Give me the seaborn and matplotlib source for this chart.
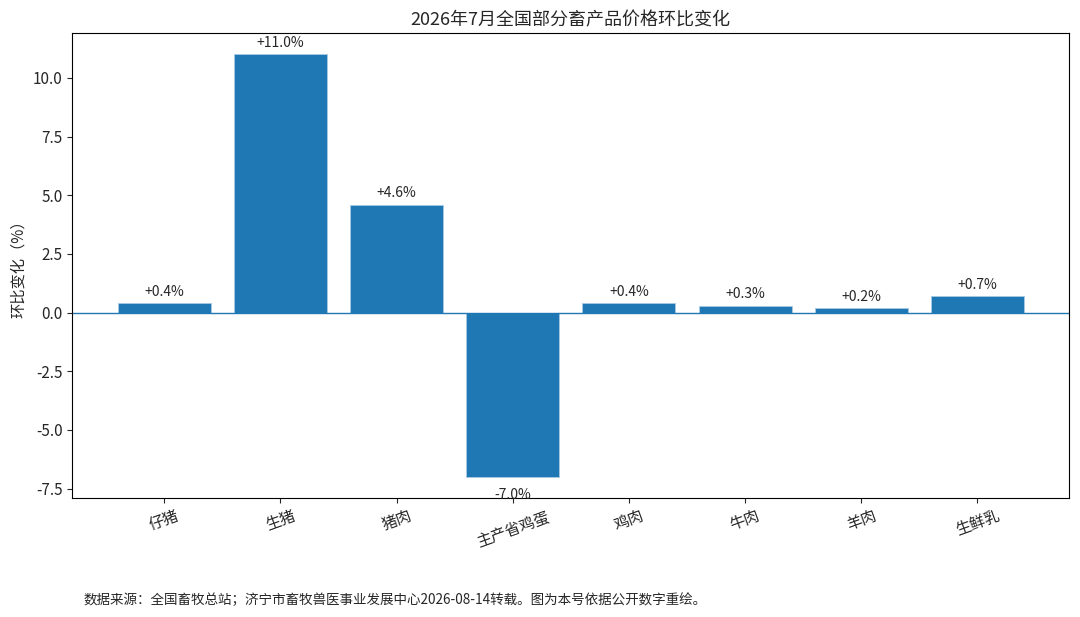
import pandas as pd
import seaborn as sns
import matplotlib.pyplot as plt

# 数据
categories = ['仔猪', '生猪', '猪肉', '主产省鸡蛋', '鸡肉', '牛肉', '羊肉', '生鲜乳']
values = [0.4, 11.0, 4.6, -7.0, 0.4, 0.3, 0.2, 0.7]
labels = ['+0.4%', '+11.0%', '+4.6%', '-7.0%', '+0.4%', '+0.3%', '+0.2%', '+0.7%']

sns.set_style('ticks')
plt.rcParams['font.family'] = ['Noto Sans CJK SC', 'DejaVu Sans']
plt.rcParams['axes.unicode_minus'] = False

df = pd.DataFrame({'category': categories, 'value': values})

fig, ax = plt.subplots(figsize=(10.8, 6.17), dpi=100)
fig.subplots_adjust(left=0.067, right=0.99, top=0.946, bottom=0.193)

sns.barplot(data=df, x='category', y='value', color='#1f77b4', saturation=1,
            width=0.8, edgecolor='#a9cbe6', linewidth=0.6, ax=ax)
ax.axhline(0, color='#1f77b4', linewidth=1)
ax.margins(x=0.05, y=0.05)

# 柱顶标签
for i, (v, lab) in enumerate(zip(values, labels)):
    if v >= 0:
        ax.annotate(lab, (i, v), xytext=(0, 3), textcoords='offset points',
                    ha='center', va='bottom', fontsize=10)
    else:
        ax.annotate(lab, (i, v), xytext=(0, -8), textcoords='offset points',
                    ha='center', va='top', fontsize=10)

ax.set_title('2026年7月全国部分畜产品价格环比变化', fontsize=13)
ax.set_xlabel('')
ax.set_ylabel('环比变化（%）', fontsize=11)
ax.tick_params(axis='both', labelsize=11)
plt.setp(ax.get_xticklabels(), rotation=20)
for s in ax.spines.values():
    s.set_visible(True)
    s.set_color('black')

fig.text(0.077, 0.016, '数据来源：全国畜牧总站；济宁市畜牧兽医事业发展中心2026-08-14转载。图为本号依据公开数字重绘。',
         fontsize=9.75, ha='left', va='bottom')

fig.savefig('out.png', dpi=100)
